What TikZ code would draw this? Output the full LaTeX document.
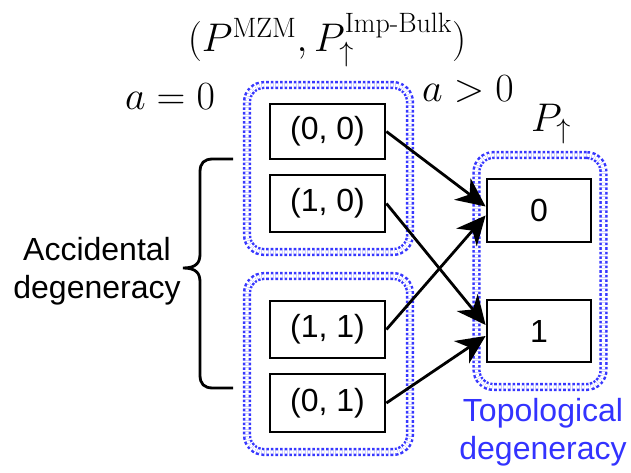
\RequirePackage{fix-cm}
\documentclass[tikz,border=0pt]{standalone}
\usepackage{amsmath}
\usepackage{fontspec}
\newfontfamily\arial{Liberation Sans}
\usetikzlibrary{arrows.meta}
\definecolor{dotblue}{RGB}{55,55,255}
\definecolor{txtblue}{RGB}{51,51,255}
\tikzset{
  statebox/.style={draw=black, line width=2.8pt, inner sep=0pt, font=\arial\fontsize{32}{38}\selectfont},
  groupbox/.style={draw=dotblue, double=white, double distance=3.2pt, line width=2.5pt,
    dash pattern=on 2.6pt off 2pt, rounded corners=17pt, inner sep=0pt},
  conn/.style={line width=2.8pt, -{Stealth[length=29pt,width=27pt,inset=9pt]}},
  mathlbl/.style={inner sep=0pt, font=\fontsize{40}{48}\selectfont},
  sanslbl/.style={align=center, inner sep=0pt, font=\arial\fontsize{32}{38}\selectfont}
}
\begin{document}
\begin{tikzpicture}[x=1pt,y=-1pt]
\useasboundingbox (0,0) rectangle (631,473);
% groups
\node[groupbox, minimum width=163pt, minimum height=167pt] (g1) at (328.5,168.5) {};
\node[groupbox, minimum width=163pt, minimum height=176pt] (g2) at (328.5,364) {};
\node[groupbox, minimum width=127pt, minimum height=232pt] (g3) at (540,271) {};
% states
\node[statebox, minimum width=115pt, minimum height=55pt] (s00) at (327.5,131.5) {(0, 0)};
\node[statebox, minimum width=115pt, minimum height=57pt] (s10) at (327.5,203.5) {(1, 0)};
\node[statebox, minimum width=115pt, minimum height=57pt] (s11) at (327.5,329.5) {(1, 1)};
\node[statebox, minimum width=115pt, minimum height=58pt] (s01) at (327.5,403) {(0, 1)};
\node[statebox, minimum width=104pt, minimum height=63pt] (b0) at (539,210.5) {0};
\node[statebox, minimum width=104pt, minimum height=62pt] (b1) at (539,331) {1};
% arrows
\draw[conn] (s00.east) -- ([yshift=4pt]b0.west);
\draw[conn] (s11.east) -- ([yshift=-5pt]b0.west);
\draw[conn] (s10.east) -- ([yshift=6pt]b1.west);
\draw[conn] (s01.east) -- ([yshift=-5pt]b1.west);
% labels
\node[mathlbl, anchor=base] (title) at (327,52) {$(P^{\mathrm{MZM}},P_{\uparrow}^{\text{Imp-Bulk}})$};
\node[mathlbl, anchor=base] (a0) at (170,110) {$a=0$};
\node[mathlbl, anchor=base] (ag) at (468,102) {$a>0$};
\node[mathlbl, anchor=base west] (pu) at (531,132) {$P_{\uparrow}$};
\node[sanslbl] (acc) at (97,271) {Accidental\\degeneracy};
\node[sanslbl, text=txtblue] (topo) at (543,432) {Topological\\degeneracy};
% brace
\coordinate (bt) at (233,159);
\coordinate (bb) at (233,388);
\coordinate (bm) at (183,268);
\draw[line width=2.8pt, line join=round]
  (bt) -- (213,159) .. controls (204,159) and (200,163) .. (200,172)
  -- (200,254) .. controls (200,263) and (196,268) .. (bm)
  (bm) .. controls (196,268) and (200,273) .. (200,282)
  -- (200,375) .. controls (200,384) and (204,388) .. (213,388) -- (bb);
\end{tikzpicture}
\end{document}
